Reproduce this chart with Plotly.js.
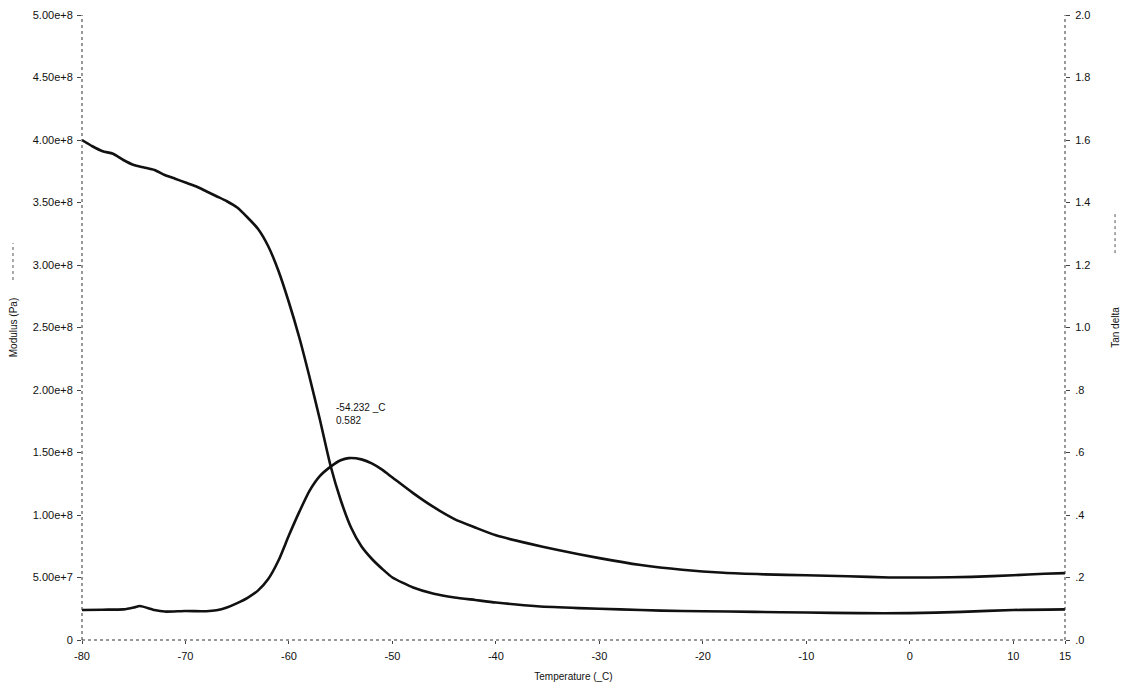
<!DOCTYPE html>
<html>
<head>
<meta charset="utf-8">
<script src="https://cdn.plot.ly/plotly-3.0.1.min.js"></script>
<style>html,body{margin:0;padding:0;background:#fff;}#chart{width:1128px;height:687px;}</style>
</head>
<body>
<div id="chart"></div>
<script>
// Storage modulus (Pa) vs temperature (_C)
const modTemp = [-80,-79,-78,-77,-76,-75,-74,-73,-72,-71,-70,-69,-68,-67,-66,-65,-64,-63,-62,-61,-60,-59,-58,-57,-56,-55,-54,-53,-52,-51,-50,-48,-46,-44,-42,-40,-36,-32,-28,-24,-20,-15,-10,-5,0,5,10,15];
const modulus = [4.00e8,3.95e8,3.91e8,3.89e8,3.84e8,3.80e8,3.78e8,3.76e8,3.72e8,3.69e8,3.66e8,3.63e8,3.59e8,3.55e8,3.51e8,3.46e8,3.38e8,3.29e8,3.15e8,2.95e8,2.70e8,2.42e8,2.10e8,1.76e8,1.40e8,1.12e8,0.90e8,0.75e8,0.65e8,0.57e8,0.50e8,0.42e8,0.37e8,0.34e8,0.32e8,0.30e8,0.27e8,0.255e8,0.245e8,0.235e8,0.23e8,0.225e8,0.22e8,0.215e8,0.215e8,0.225e8,0.24e8,0.245e8];

// Tan delta vs temperature (_C)
const tanTemp = [-80,-78,-76,-75,-74.4,-73,-72,-70,-68,-67,-66,-65,-64,-63,-62,-61,-60,-59,-58,-57,-56,-55,-54.232,-53,-52,-51,-50,-48,-46,-44,-42,-40,-37,-34,-30,-26,-22,-18,-14,-10,-6,-2,2,6,10,13,15];
const tanDelta = [0.096,0.097,0.098,0.104,0.109,0.096,0.091,0.093,0.092,0.095,0.104,0.118,0.135,0.158,0.195,0.255,0.335,0.41,0.478,0.525,0.554,0.575,0.582,0.578,0.565,0.545,0.52,0.47,0.425,0.387,0.36,0.335,0.31,0.288,0.262,0.24,0.225,0.215,0.21,0.207,0.204,0.200,0.200,0.202,0.207,0.212,0.214];

// Tick labels
const xTickVals = [-80,-70,-60,-50,-40,-30,-20,-10,0,10,15];
const xTickText = ['-80','-70','-60','-50','-40','-30','-20','-10','0','10','15'];
const yTickVals = [0,5e7,1e8,1.5e8,2e8,2.5e8,3e8,3.5e8,4e8,4.5e8,5e8];
const yTickText = ['0','5.00e+7','1.00e+8','1.50e+8','2.00e+8','2.50e+8','3.00e+8','3.50e+8','4.00e+8','4.50e+8','5.00e+8'];
const y2TickVals = [0,0.2,0.4,0.6,0.8,1.0,1.2,1.4,1.6,1.8,2.0];
const y2TickText = ['.0','.2','.4','.6','.8','1.0','1.2','1.4','1.6','1.8','2.0'];

// Peak annotation
const peakT = -54.232;
const peakTan = 0.582;

const ff = 'Arial, "Liberation Sans", sans-serif';
const txt = '#111111';
const lineStyle = {color: '#111111', width: 2.6, shape: 'spline', smoothing: 0.6};

const traces = [
  {x: modTemp, y: modulus, type: 'scatter', mode: 'lines', name: 'Modulus (Pa)', line: lineStyle, yaxis: 'y'},
  {x: tanTemp, y: tanDelta, type: 'scatter', mode: 'lines', name: 'Tan delta', line: lineStyle, yaxis: 'y2'}
];

const dotted = {color: '#333', width: 1, dash: 'dot'};
const layout = {
  width: 1128, height: 687,
  margin: {l: 82, r: 63, t: 15, b: 47},
  paper_bgcolor: '#ffffff', plot_bgcolor: '#ffffff',
  showlegend: false,
  font: {family: ff, size: 11, color: txt},
  xaxis: {
    range: [-80, 15], tickvals: xTickVals, ticktext: xTickText,
    showgrid: false, zeroline: false, showline: false,
    ticks: 'outside', ticklen: 3, tickcolor: '#444', ticklabelstandoff: 3,
    tickfont: {family: ff, size: 11, color: txt},
    title: {text: 'Temperature (_C)', font: {family: ff, size: 10, color: txt}, standoff: 11},
    automargin: false
  },
  yaxis: {
    range: [0, 5e8], tickvals: yTickVals, ticktext: yTickText,
    showgrid: false, zeroline: false, showline: false,
    ticks: 'outside', ticklen: 4, tickcolor: '#444', ticklabelstandoff: 2,
    tickfont: {family: ff, size: 11, color: txt},
    title: {text: 'Modulus (Pa)', font: {family: ff, size: 10, color: txt}, standoff: 13},
    automargin: false
  },
  yaxis2: {
    range: [0, 2], overlaying: 'y', side: 'right',
    tickvals: y2TickVals, ticktext: y2TickText,
    showgrid: false, zeroline: false, showline: false,
    ticks: 'outside', ticklen: 4, tickcolor: '#444', ticklabelstandoff: 3,
    tickfont: {family: ff, size: 11, color: txt},
    title: {text: 'Tan delta', font: {family: ff, size: 10, color: txt}, standoff: 22},
    automargin: false
  },
  shapes: [
    {type: 'line', xref: 'paper', yref: 'paper', x0: 0, x1: 0, y0: 0, y1: 1, line: dotted},
    {type: 'line', xref: 'paper', yref: 'paper', x0: 1, x1: 1, y0: 0, y1: 1, line: dotted},
    {type: 'line', xref: 'paper', yref: 'paper', x0: 0, x1: 1, y0: 0, y1: 0, line: dotted},
    {type: 'line', xref: 'paper', yref: 'paper', x0: -0.0702, x1: -0.0702, y0: 0.576, y1: 0.635, line: {color: '#555', width: 1, dash: 'dot'}},
    {type: 'line', xref: 'paper', yref: 'paper', x0: 1.0509, x1: 1.0509, y0: 0.619, y1: 0.683, line: {color: '#555', width: 1, dash: 'dot'}}
  ],
  annotations: [
    {x: peakT, y: peakTan, xref: 'x', yref: 'y2', xanchor: 'left', yanchor: 'bottom',
     xshift: -15, yshift: 30, showarrow: false, align: 'left',
     text: peakT.toFixed(3) + ' _C<br>' + peakTan.toFixed(3),
     font: {family: ff, size: 10, color: txt}}
  ]
};

Plotly.newPlot('chart', traces, layout, {displayModeBar: false, staticPlot: true});
</script>
</body>
</html>
